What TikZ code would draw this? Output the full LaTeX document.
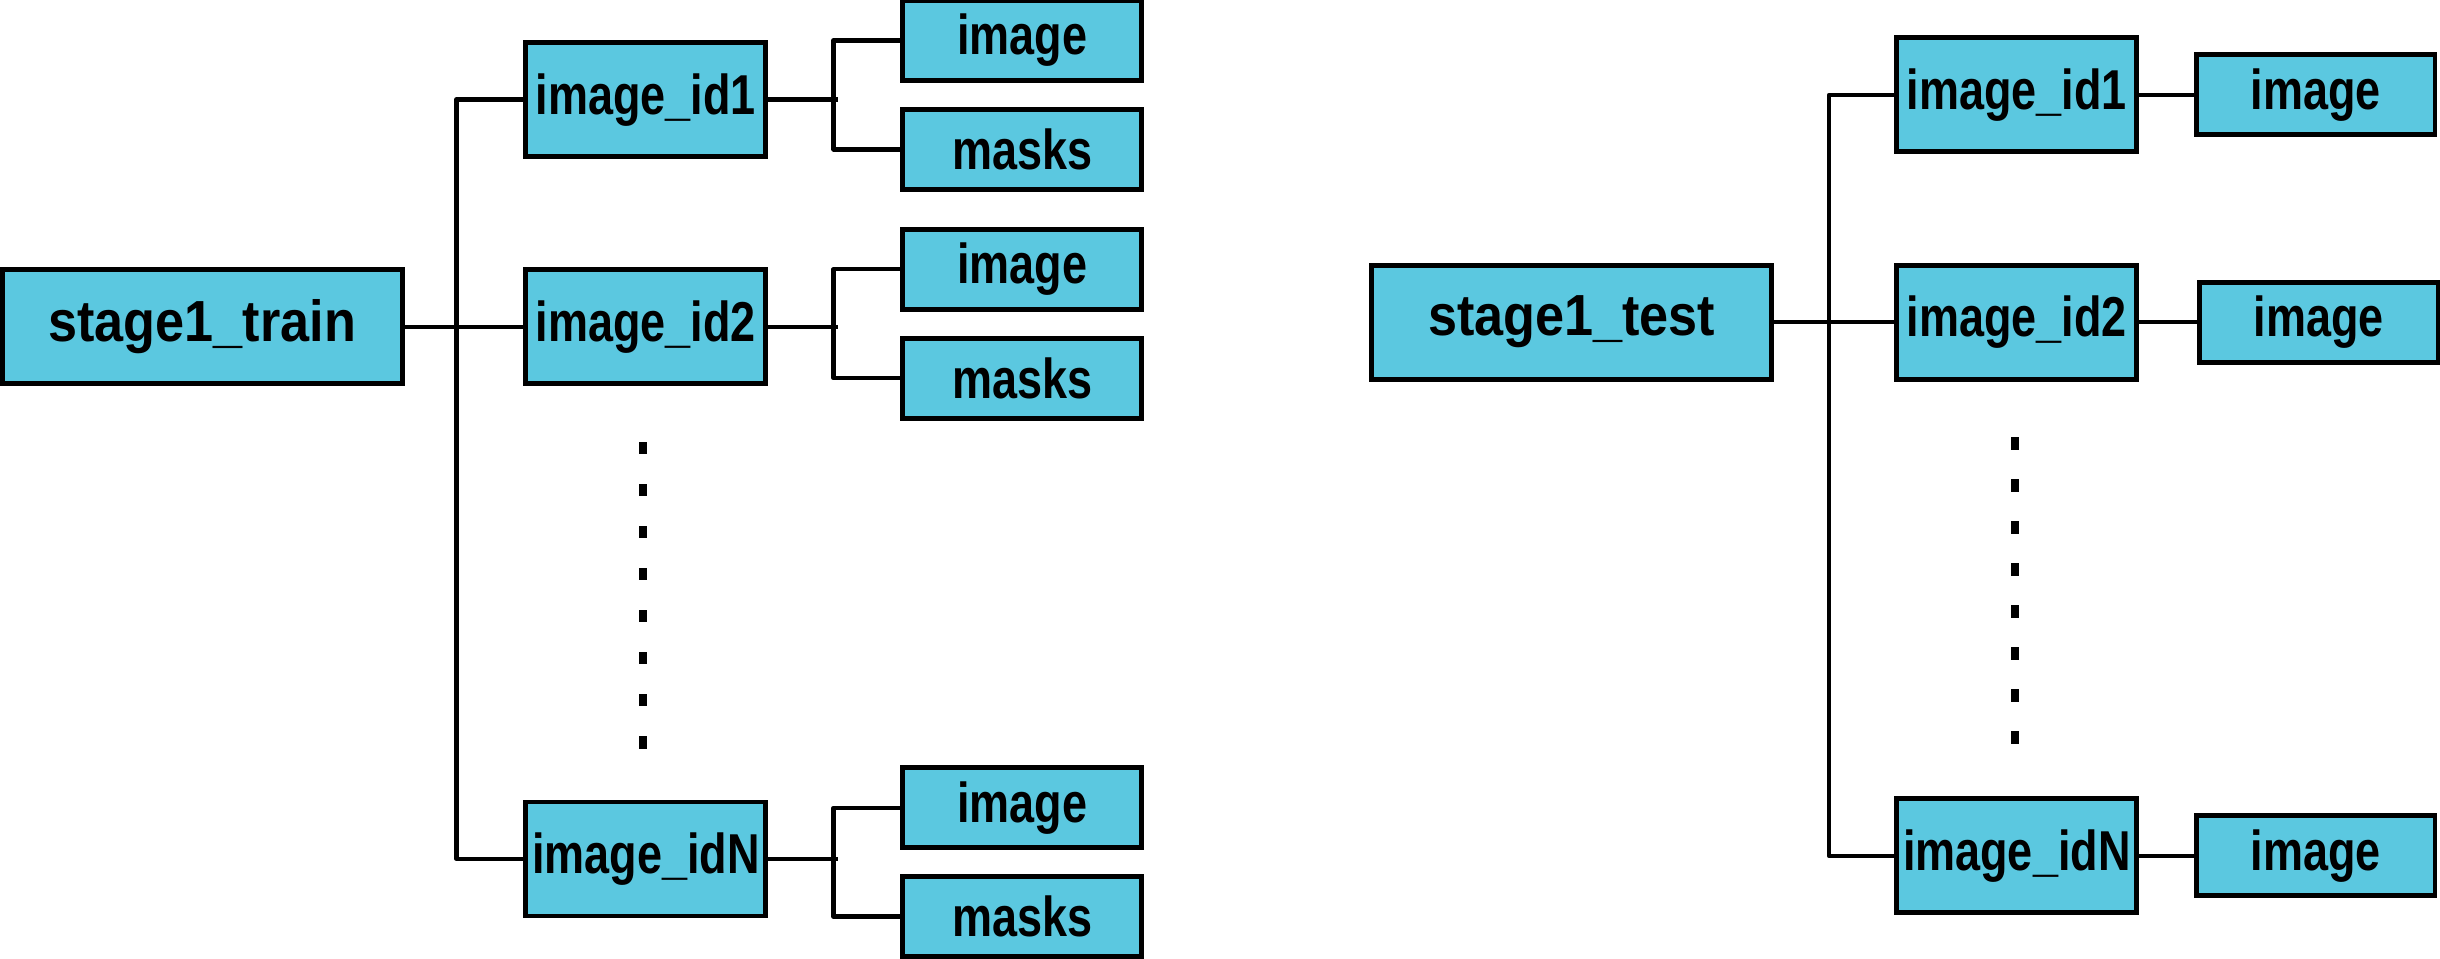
\documentclass[tikz,border=0pt]{standalone}
\usepackage{fontspec}
\setmainfont{Liberation Sans}
\newfontfamily\boxfont[FakeStretch=0.8]{Liberation Sans}
\newfontfamily\rootfont[FakeStretch=0.9]{Liberation Sans}
\definecolor{boxblue}{RGB}{91,200,224}
\def\rootwd{4.0cm}
\def\idwd{2.40cm}
\def\idht{1.14cm}
\def\leafwd{2.39cm}
\def\leafht{0.80cm}
\def\dotgap{27}

\begin{document}
\begin{tikzpicture}[x=0.01556cm, y=-0.01556cm,
  box/.style={draw, line width=1.4pt, fill=boxblue, inner sep=0pt},
  rootbox/.style={box, minimum width=\rootwd, minimum height=\idht, font=\rootfont\bfseries\fontsize{16.5}{19}\selectfont},
  idbox/.style={box, minimum width=\idwd, minimum height=\idht, font=\boxfont\bfseries\fontsize{16}{19}\selectfont},
  leafbox/.style={box, minimum width=\leafwd, minimum height=\leafht, font=\boxfont\bfseries\fontsize{16}{19}\selectfont},
  wire/.style={line width=1.2pt, line join=round}]
  \useasboundingbox (0,0) rectangle (1568,615.7);
  % train tree
  \node[rootbox] (train) at (130,210) {stage1\_train};
  \foreach \k/\y in {1/64, 2/210, N/552}
    \node[idbox] (tid\k) at (415,\y) {image\_id\k};
  \foreach \k/\y in {1/26, 2/173, N/519}
  {
    \node[leafbox] (timg\k) at (657,\y) {image};
    \node[leafbox] (tmsk\k) at (657,\y+70) {masks};
  };
  \draw[wire] (train.east) -- (tid2.west);
  \draw[wire] (tid1.west) -- ++(-43,0) |- (tidN.west);
  \foreach \k in {1,2,N}
  {
    \draw[wire] (tid\k.east) -- ++(45,0);
    \draw[wire] (timg\k.west) -- ++(-43,0) |- (tmsk\k.west);
  };
  % test tree
  \node[rootbox] (test) at (1010,207) {stage1\_test};
  \foreach \k/\y in {1/61, 2/207, N/550}
    \node[idbox] (sid\k) at (1296,\y) {image\_id\k};
  \node[leafbox] (simg1) at (1488,61) {image};
  \node[leafbox] (simg2) at (1490,207) {image};
  \node[leafbox] (simgN) at (1488,550) {image};
  \draw[wire] (test.east) -- (sid2.west);
  \draw[wire] (sid1.west) -- ++(-42,0) |- (sidN.west);
  \foreach \k in {1,2,N}
    \draw[wire] (sid\k.east) -- (simg\k.west);
  % dots between id2 and idN
  \foreach \i in {0,...,7}
  {
    \fill (410.5,284+\dotgap*\i) rectangle ++(5,8);
    \fill (1292.5,281+\dotgap*\i) rectangle ++(5,8);
  };
\end{tikzpicture}
\end{document}
